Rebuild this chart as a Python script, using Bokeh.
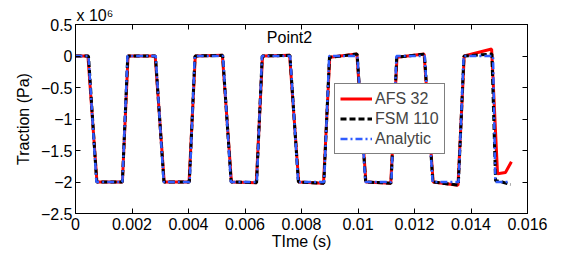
from bokeh.plotting import figure
from bokeh.models import (Range1d, LinearAxis, FixedTicker, CustomJSTickFormatter,
                          Legend, LegendItem, Label)
from bokeh.embed import file_html
from bokeh.resources import INLINE

# ---- data (time in s, traction in 1e6 Pa) ----
time_afs32 = [0, 0.00044, 0.00076, 0.00166, 0.00186, 0.00282, 0.00314, 0.00402, 0.00424,
              0.00520, 0.00552, 0.00640, 0.00662, 0.00758, 0.00790, 0.00878, 0.00900,
              0.00996, 0.01028, 0.01116, 0.01138, 0.01234, 0.01266, 0.01354, 0.01376,
              0.01473, 0.01494, 0.01522, 0.01543]
trac_afs32 = [0, 0, -2.0, -2.0, 0, 0.0, -2.0, -2.0, 0, 0.01, -2.0, -2.01, 0, 0.01,
              -2.0, -2.02, -0.02, 0.03, -2.0, -2.02, -0.02, 0.03, -2.0, -2.05, 0.0,
              0.11, -1.87, -1.85, -1.68]

time_fsm110 = [0, 0.00046, 0.00075, 0.00166, 0.00185, 0.00283, 0.00313, 0.00403, 0.00423,
               0.00521, 0.00551, 0.00641, 0.00661, 0.00759, 0.00789, 0.00879, 0.00899,
               0.00997, 0.01027, 0.01117, 0.01137, 0.01235, 0.01265, 0.01355, 0.01375,
               0.01474, 0.01487, 0.01510, 0.01540]
trac_fsm110 = [0, 0, -2.0, -2.0, 0, 0.0, -2.0, -2.0, 0, 0.01, -2.0, -2.01, 0, 0.01,
               -2.0, -2.02, -0.02, 0.03, -2.0, -2.02, -0.02, 0.03, -2.0, -2.05, 0.0,
               0.03, -1.98, -2.0, -2.04]

time_analytic = [0, 0.00046, 0.00074, 0.00166, 0.00184, 0.00284, 0.00312, 0.00404, 0.00422,
                 0.00522, 0.00550, 0.00642, 0.00660, 0.00760, 0.00788, 0.00880, 0.00898,
                 0.00998, 0.01026, 0.01118, 0.01136, 0.01236, 0.01264, 0.01356, 0.01374,
                 0.01478, 0.01486, 0.01532]
trac_analytic = [0, 0, -2, -2, 0, 0, -2, -2, 0, 0, -2, -2, 0, 0, -2, -2, 0, 0, -2, -2,
                 0, 0, -2, -2, 0, 0, -2, -2]

x_ticks = [0, 0.002, 0.004, 0.006, 0.008, 0.010, 0.012, 0.014, 0.016]
y_ticks = [-2.5, -2.0, -1.5, -1.0, -0.5, 0.0, 0.5]

FONT = "Liberation Sans"

p = figure(width=575, height=253, output_backend="svg", toolbar_location=None,
           x_range=Range1d(0, 0.016), y_range=Range1d(-2.5, 0.5),
           min_border_left=75, min_border_right=48, min_border_top=24, min_border_bottom=40)
p.xgrid.visible = False
p.ygrid.visible = False
p.outline_line_color = "black"
p.outline_line_width = 1
p.background_fill_color = "white"
p.border_fill_color = "white"

# exponent note above the axes (as the plot title, left aligned)
p.title.text = "x 10\u2076"
p.title.align = "left"
p.title.offset = 1
p.title.standoff = 2
p.title.text_font = FONT
p.title.text_font_size = "16px"
p.title.text_font_style = "normal"
p.title.text_color = "black"

xfmt = CustomJSTickFormatter(code="return tick === 0 ? '0' : tick.toFixed(3).replace(/0+$/, '');")
yfmt = CustomJSTickFormatter(code="return tick < 0 ? '\\u2212' + (-tick).toString() : tick.toString();")
blank = CustomJSTickFormatter(code="return '';")

def style(ax, ticker, fmt, show):
    ax.ticker = FixedTicker(ticks=ticker)
    ax.formatter = fmt
    ax.major_tick_in = 5
    ax.major_tick_out = 0
    ax.minor_tick_in = 0
    ax.minor_tick_out = 0
    ax.axis_line_color = "black"
    ax.major_tick_line_color = "black"
    ax.major_label_text_font = FONT
    ax.major_label_text_font_size = "16px" if show else "0px"
    ax.major_label_text_color = "black"
    ax.major_label_standoff = 4 if show else 0

style(p.xaxis[0], x_ticks, xfmt, True)
p.xaxis[0].axis_label = "TIme (s)"
p.xaxis[0].axis_label_text_font = FONT
p.xaxis[0].axis_label_text_font_size = "16px"
p.xaxis[0].axis_label_text_font_style = "normal"
p.xaxis[0].axis_label_text_color = "black"
p.xaxis[0].axis_label_standoff = 0

style(p.yaxis[0], y_ticks, yfmt, True)
p.yaxis[0].major_label_standoff = 3
p.yaxis[0].axis_label = "Traction (Pa)"
p.yaxis[0].axis_label_text_font = FONT
p.yaxis[0].axis_label_text_font_size = "16px"
p.yaxis[0].axis_label_text_font_style = "normal"
p.yaxis[0].axis_label_text_color = "black"
p.yaxis[0].axis_label_standoff = 6

top_ax = LinearAxis()
style(top_ax, x_ticks, blank, False)
p.add_layout(top_ax, "above")
right_ax = LinearAxis()
style(right_ax, y_ticks, blank, False)
p.add_layout(right_ax, "right")

r1 = p.line(time_afs32, trac_afs32, line_color="#ff0000", line_width=3)
r2 = p.line(time_fsm110, trac_fsm110, line_color="black", line_width=3, line_dash="6 3")
r3 = p.line(time_analytic, trac_analytic, line_color="#2f5cff", line_width=2.5,
            line_dash="7 3 2 3")

legend = Legend(items=[LegendItem(label="AFS 32", renderers=[r1]),
                       LegendItem(label="FSM 110", renderers=[r2]),
                       LegendItem(label="Analytic", renderers=[r3])],
                location=(259, 59), margin=0, padding=5, spacing=1,
                glyph_width=32, glyph_height=19, label_height=19, label_standoff=3,
                label_text_font=FONT, label_text_font_size="16px",
                border_line_color="black", border_line_width=1,
                background_fill_color="white", background_fill_alpha=1)
p.add_layout(legend)

p.add_layout(Label(x=214, y=176, x_units="screen", y_units="screen", text="Point2",
                   text_align="center", text_baseline="middle", text_font=FONT,
                   text_font_size="16px", text_color="black"))

with open("out.html", "w", encoding="utf-8") as f:
    f.write(file_html(p, INLINE))
